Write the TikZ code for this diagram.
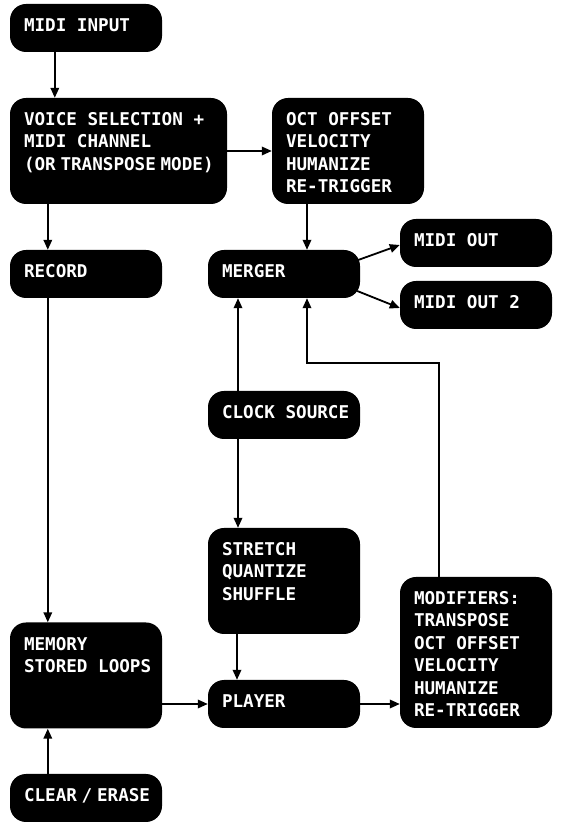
\documentclass[tikz,border=0pt]{standalone}
\usepackage{fontspec}
\setmonofont{DejaVu Sans Mono}
\usetikzlibrary{arrows.meta}
\tikzset{
  box/.style={fill=black, draw=none, rounded corners=16pt, inner sep=0pt, anchor=center},
  lbl/.style={anchor=north west, inner sep=0pt, text=white, align=left,
    font=\ttfamily\bfseries\fontsize{17.6}{22.4}\selectfont},
  arr/.style={line width=1.8pt, -{Triangle[length=10pt,width=8.5pt]}},
}
\newcommand{\mybox}[6]{% name, cx, cy(px from top), w, h, text
  \node[box, minimum width=#4pt, minimum height=#5pt] (#1) at (#2,827-#3) {};
  \node[lbl] (#1-t) at ([shift={(14pt,-14.5pt)}]#1.north west) {#6};
}
\newcommand{\nsp}{\hspace{0.27em}}
\begin{document}
\begin{tikzpicture}[x=1pt,y=1pt]
\useasboundingbox (0,0) rectangle (562,827);
\mybox{in}{86}{28}{152}{48}{MIDI INPUT}
\mybox{vs}{118.5}{151}{217}{106}{VOICE SELECTION +\\MIDI CHANNEL\\(OR\nsp TRANSPOSE\nsp MODE)}
\mybox{oct}{348}{151}{152}{106}{OCT OFFSET\\VELOCITY\\HUMANIZE\\RE-TRIGGER}
\mybox{rec}{86}{274}{152}{48}{RECORD}
\mybox{mer}{284}{274}{152}{48}{MERGER}
\mybox{mo1}{476}{243}{152}{48}{MIDI OUT}
\mybox{mo2}{476}{305}{152}{48}{MIDI OUT 2}
\mybox{clk}{284}{415}{152}{48}{CLOCK SOURCE}
\mybox{str}{284}{581}{152}{106}{STRETCH\\QUANTIZE\\SHUFFLE}
\mybox{mem}{86}{675.5}{152}{106}{MEMORY\\STORED LOOPS}
\mybox{pl}{284}{704}{152}{48}{PLAYER}
\mybox{mod}{476}{652.5}{152}{151}{MODIFIERS:\\TRANSPOSE\\OCT OFFSET\\VELOCITY\\HUMANIZE\\RE-TRIGGER}
\mybox{clr}{86}{798}{152}{48}{CLEAR\nsp/\nsp ERASE}

\draw[arr] ([xshift=45pt]in.south west) -- ([xshift=45pt]vs.north west);
\draw[arr] (vs.east) -- (oct.west);
\draw[arr] ([xshift=38pt]vs.south west) -- ([xshift=38pt]rec.north west);
\draw[arr] ([xshift=-41pt]oct.south) -- ([xshift=23pt]mer.north);
\draw[arr] ([shift={(-2pt,14pt)}]mer.east) -- ([yshift=-2pt]mo1.west);
\draw[arr] ([shift={(-3pt,-17pt)}]mer.east) -- ([yshift=-3pt]mo2.west);
\draw[arr] ([xshift=-46pt]clk.north) -- ([xshift=-46pt]mer.south);
\draw[arr] ([xshift=-46pt]clk.south) -- ([xshift=-46pt]str.north);
\draw[arr] ([xshift=-47pt]str.south) -- ([xshift=-47pt]pl.north);
\coordinate (ret) at ([shift={(23pt,-65pt)}]mer.south);
\draw[arr] ([xshift=-37pt]mod.north) |- (ret) -- ([xshift=23pt]mer.south);
\draw[arr] ([xshift=38pt]rec.south west) -- ([xshift=38pt]mem.north west);
\draw[arr] ([xshift=38pt]clr.north west) -- ([xshift=38pt]mem.south west);
\draw[arr] (mem.east |- pl.west) -- (pl.west);
\draw[arr] (pl.east) -- (pl.east -| mod.west);
\end{tikzpicture}
\end{document}
